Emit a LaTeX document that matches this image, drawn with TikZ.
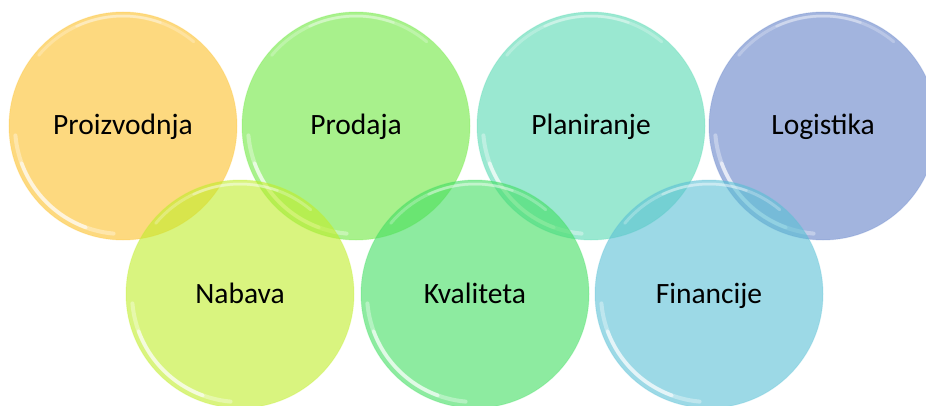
\documentclass[tikz,border=0pt]{standalone}
\usepackage{fontspec}
\setmainfont{Carlito}
\definecolor{proizC}{RGB}{252,192,42}
\definecolor{prodC}{RGB}{110,232,64}
\definecolor{planC}{RGB}{87,217,178}
\definecolor{logC}{RGB}{100,130,200}
\definecolor{nabC}{RGB}{192,237,42}
\definecolor{kvalC}{RGB}{65,222,97}
\definecolor{finC}{RGB}{90,192,213}

\begin{document}
\begin{tikzpicture}[x=1pt,y=1pt,
	bubble/.style={circle, minimum size=228pt, inner sep=0pt,
		text height=22pt, text depth=4pt,
		fill opacity=0.6, text opacity=1, draw=#1, draw opacity=0.25, line width=1pt,
		fill=#1, font=\fontsize{29.5}{33}\selectfont,
		path picture={
			\draw[white, line width=4pt, opacity=0.35, line cap=round]
				([shift={(185:108pt)}]path picture bounding box.center)
				arc[start angle=185, end angle=265, radius=108pt];
			\draw[white, line width=3.5pt, opacity=0.6, line cap=round]
				([shift={(200:108pt)}]path picture bounding box.center)
				arc[start angle=200, end angle=250, radius=108pt];
			\draw[white, line width=3pt, opacity=0.25, line cap=round]
				([shift={(50:110pt)}]path picture bounding box.center)
				arc[start angle=50, end angle=140, radius=110pt];
			\draw[white, line width=2.5pt, opacity=0.3, line cap=round]
				([shift={(70:110pt)}]path picture bounding box.center)
				arc[start angle=70, end angle=115, radius=110pt];
		}}]
		\useasboundingbox (0,0) rectangle (926,405);
		% top row
		\node[bubble=proizC] (proizvodnja) at (123,279) {Proizvodnja};
		\node[bubble=prodC] (prodaja) at (356,279) {Prodaja};
		\node[bubble=planC] (planiranje) at (591,279) {Planiranje};
		\node[bubble=logC] (logistika) at (823,279) {Logistika};
		% bottom row
		\node[bubble=nabC] (nabava) at (240,111) {Nabava};
		\node[bubble=kvalC] (kvaliteta) at (475,111) {Kvaliteta};
		\node[bubble=finC] (financije) at (709,111) {Financije};
\end{tikzpicture}
\end{document}
